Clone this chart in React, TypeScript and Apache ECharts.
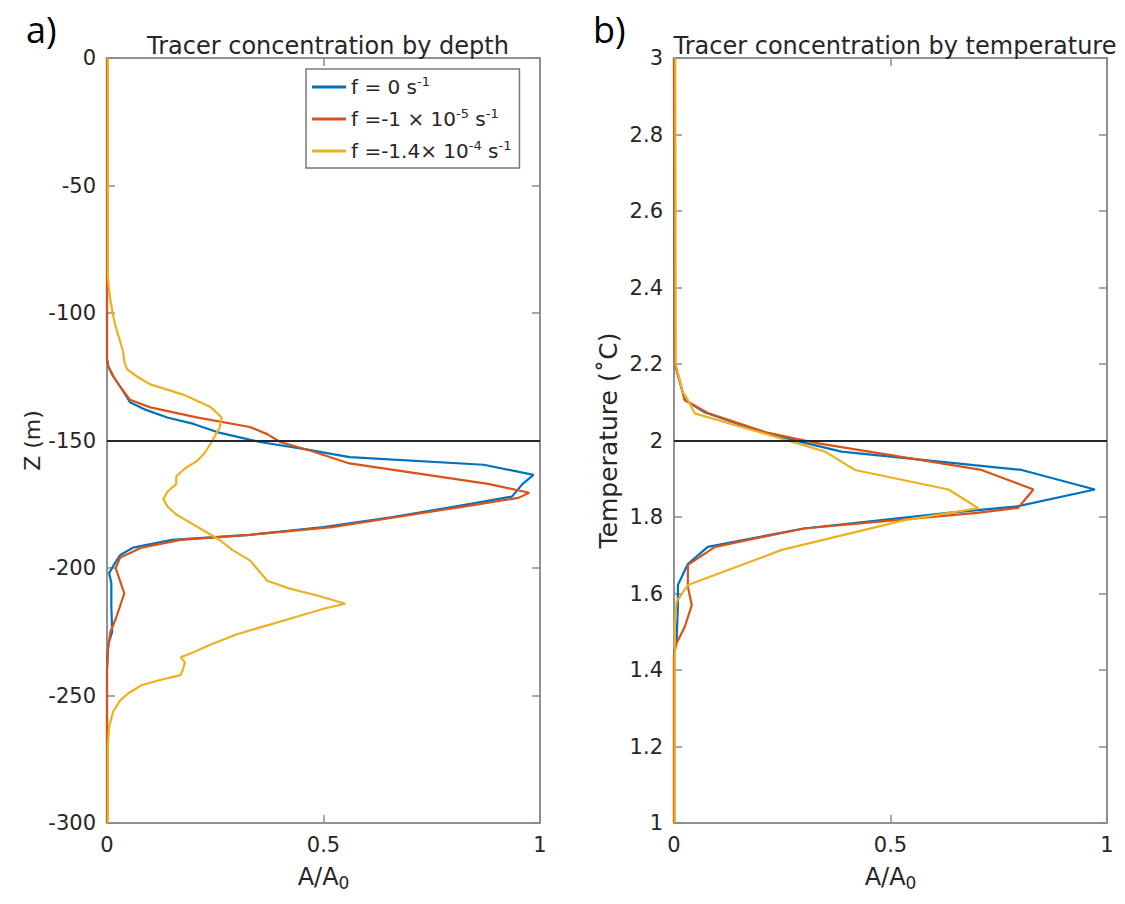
import React, { useEffect, useRef } from "react";
import * as echarts from "echarts";

// ---- Panel a) tracer concentration by depth (Z in m, A/A0) ----
const zBlueDepth = [0, -118, -121, -125, -130, -135, -138, -141, -143.5, -146.7, -150.6, -153.5, -156.5, -159.5, -163.5, -167, -172, -176, -180, -184, -187, -189, -192, -195, -199, -202, -206, -215, -225, -230, -240, -300];
const aBlueDepth = [0, 0, 0.003, 0.015, 0.035, 0.053, 0.09, 0.139, 0.2, 0.254, 0.353, 0.46, 0.56, 0.87, 0.985, 0.96, 0.935, 0.8, 0.66, 0.5, 0.33, 0.15, 0.06, 0.03, 0.015, 0.005, 0.01, 0.01, 0.012, 0.003, 0, 0];

const zRedDepth = [0, -118, -121, -125, -130, -134, -137, -141, -144.7, -147.5, -150.6, -154, -159, -163, -167, -170.5, -172.5, -176, -180, -184, -187, -189, -192, -196, -200, -205, -210, -215, -220, -225, -232, -240, -300];
const aRedDepth = [0, 0, 0.003, 0.015, 0.035, 0.053, 0.1, 0.21, 0.33, 0.37, 0.4, 0.47, 0.56, 0.72, 0.88, 0.975, 0.95, 0.82, 0.67, 0.52, 0.33, 0.17, 0.08, 0.03, 0.02, 0.03, 0.04, 0.03, 0.02, 0.008, 0.002, 0, 0];

const zYellowDepth = [0, -85, -90, -95, -100, -104, -107, -111, -115, -119, -122, -125, -128, -132, -135, -137, -141, -145, -148, -151, -155, -158, -161, -164, -167, -170, -173, -176, -179, -183, -186, -189, -193, -197, -201, -205, -208, -211, -214, -216, -219, -222, -226, -230, -233, -235, -237, -240, -242, -244, -246, -249, -252, -256, -262, -270, -300];
const aYellowDepth = [0.002, 0.002, 0.004, 0.008, 0.013, 0.018, 0.023, 0.03, 0.037, 0.04, 0.046, 0.07, 0.1, 0.176, 0.215, 0.24, 0.265, 0.26, 0.25, 0.24, 0.225, 0.208, 0.18, 0.16, 0.16, 0.14, 0.13, 0.14, 0.16, 0.2, 0.23, 0.26, 0.29, 0.33, 0.35, 0.37, 0.42, 0.49, 0.55, 0.5, 0.44, 0.38, 0.3, 0.24, 0.2, 0.17, 0.18, 0.175, 0.17, 0.12, 0.08, 0.05, 0.03, 0.015, 0.005, 0.002, 0.002];

// ---- Panel b) tracer concentration by temperature (deg C, A/A0) ----
const tBlueTemp = [3, 2.2, 2.127, 2.106, 2.073, 2.023, 1.997, 1.971, 1.923, 1.872, 1.827, 1.811, 1.77, 1.722, 1.677, 1.622, 1.566, 1.478, 1.45, 1];
const aBlueTemp = [0, 0.002, 0.02, 0.025, 0.072, 0.2, 0.29, 0.387, 0.803, 0.972, 0.788, 0.633, 0.3, 0.078, 0.032, 0.009, 0.009, 0.006, 0, 0];

const tRedTemp = [3, 2.2, 2.127, 2.106, 2.072, 2.022, 1.994, 1.923, 1.872, 1.824, 1.811, 1.77, 1.722, 1.675, 1.618, 1.57, 1.513, 1.47, 1.44, 1];
const aRedTemp = [0, 0.002, 0.02, 0.025, 0.078, 0.21, 0.326, 0.71, 0.83, 0.795, 0.7, 0.3, 0.095, 0.032, 0.032, 0.041, 0.025, 0.006, 0, 0];

const tYellowTemp = [3, 2.2, 2.127, 2.106, 2.071, 2.023, 1.971, 1.923, 1.872, 1.823, 1.792, 1.714, 1.622, 1.579, 1.52, 1];
const aYellowTemp = [0.003, 0.004, 0.02, 0.032, 0.048, 0.194, 0.349, 0.418, 0.634, 0.703, 0.533, 0.249, 0.032, 0.006, 0.002, 0.002];

const seriesNames = ["f0", "f1", "f2"];
const legendRich = [
  "{t|f = 0 s}{s|-1}",
  "{t|f =-1 × 10}{s|-5}{t| s}{s|-1}",
  "{t|f =-1.4× 10}{s|-4}{t| s}{s|-1}",
];
const colors = ["#0072BD", "#D95319", "#EDB120"];
const depthRef = -150;
const tempRef = 2;
const titles = ["Tracer concentration by depth", "Tracer concentration by temperature"];
const panelLabels = ["a)", "b)"];

const FONT = "DejaVu Sans";
const AXIS_GRAY = "#8a8a8a";
const TEXT = "#262626";

function pairs(xs: number[], ys: number[]) {
  return xs.map((x, i) => [x, ys[i]]);
}

export default function App() {
  const ref = useRef<HTMLDivElement>(null);
  useEffect(() => {
    if (!ref.current) return;
    const chart = echarts.init(ref.current, undefined, { renderer: "svg" });

    const gridW = 433;
    const gridH = 765;
    const grids = [
      { left: 107, top: 58, width: gridW, height: gridH, show: true, borderColor: AXIS_GRAY, borderWidth: 1.5, backgroundColor: "transparent" },
      { left: 674, top: 58, width: gridW, height: gridH, show: true, borderColor: AXIS_GRAY, borderWidth: 1.5, backgroundColor: "transparent" },
    ];

    const tickCommon = {
      axisLine: { show: true, onZero: false, lineStyle: { color: AXIS_GRAY, width: 1.5 } },
      axisTick: { show: true, inside: true, length: 8, lineStyle: { color: AXIS_GRAY, width: 1.5 } },
      splitLine: { show: false },
    };

    const xMain = (gi: number) => ({
      type: "value",
      gridIndex: gi,
      min: 0,
      max: 1,
      interval: 0.5,
      position: "bottom",
      ...tickCommon,
      axisLabel: { color: TEXT, fontFamily: FONT, fontSize: 21, margin: 11 },
      name: "{a|A/A}{b|0}",
      nameLocation: "middle",
      nameGap: 37,
      nameTextStyle: {
        rich: {
          a: { fontFamily: FONT, fontSize: 24, color: TEXT, lineHeight: 30 },
          b: { fontFamily: FONT, fontSize: 17, color: TEXT, verticalAlign: "bottom", lineHeight: 17, padding: [15, 0, 0, 0] },
        },
      },
    });
    const xTop = (gi: number) => ({
      type: "value",
      gridIndex: gi,
      min: 0,
      max: 1,
      interval: 0.5,
      position: "top",
      ...tickCommon,
      axisLabel: { show: false },
    });

    const lineSeries = (d: number[][], i: number, axis: number, ref: number) => ({
      type: "line",
      name: seriesNames[i],
      xAxisIndex: axis,
      yAxisIndex: axis,
      data: d,
      symbol: "none",
      showSymbol: false,
      silent: true,
      lineStyle: { color: colors[i], width: 2.2 },
      itemStyle: { color: colors[i] },
      z: 2 + i,
      markLine:
        i === 0
          ? {
              silent: true,
              symbol: ["none", "none"],
              label: { show: false },
              lineStyle: { color: "#262626", width: 2.2, type: "solid" },
              data: [{ yAxis: ref }],
            }
          : undefined,
    });

    const option: any = {
      animation: false,
      backgroundColor: "#ffffff",
      title: [
        { text: titles[0], left: 323, top: 29, textAlign: "center", textStyle: { fontFamily: FONT, fontSize: 24, fontWeight: "normal", color: TEXT } },
        { text: titles[1], left: 890, top: 29, textAlign: "center", textStyle: { fontFamily: FONT, fontSize: 24, fontWeight: "normal", color: TEXT } },
        { text: panelLabels[0], left: 21, top: 6, textStyle: { fontFamily: "Open Sans", fontSize: 36, fontWeight: "normal", color: "#000" } },
        { text: panelLabels[1], left: 588, top: 6, textStyle: { fontFamily: "Open Sans", fontSize: 36, fontWeight: "normal", color: "#000" } },
      ],
      grid: grids,
      legend: {
        data: seriesNames,
        orient: "vertical",
        left: 306,
        top: 69,
        padding: [6, 8, 6, 6],
        itemGap: 9,
        itemWidth: 34,
        itemHeight: 3,
        icon: "rect",
        backgroundColor: "#fff",
        borderColor: "#7a7a7a",
        borderWidth: 1.5,
        borderRadius: 0,
        formatter: (name: string) => legendRich[seriesNames.indexOf(name)],
        textStyle: {
          rich: {
            t: { fontFamily: FONT, fontSize: 20, color: TEXT, lineHeight: 24 },
            s: { fontFamily: FONT, fontSize: 13, color: TEXT, verticalAlign: "top", lineHeight: 13, padding: [0, 0, 10, 0] },
          },
        },
      },
      xAxis: [xMain(0), xMain(1), xTop(0), xTop(1)],
      yAxis: [
        {
          type: "value",
          gridIndex: 0,
          min: -300,
          max: 0,
          interval: 50,
          position: "left",
          ...tickCommon,
          axisLabel: { color: TEXT, fontFamily: FONT, fontSize: 21, margin: 11 },
          name: "Z (m)",
          nameLocation: "middle",
          nameGap: 64,
          nameTextStyle: { fontFamily: FONT, fontSize: 22, color: TEXT },
        },
        {
          type: "value",
          gridIndex: 1,
          min: 1,
          max: 3,
          interval: 0.2,
          position: "left",
          ...tickCommon,
          axisLabel: {
            color: TEXT,
            fontFamily: FONT,
            fontSize: 21,
            margin: 11,
            formatter: (v: number) => String(Number(v.toFixed(1))),
          },
          name: "Temperature (˚C)",
          nameLocation: "middle",
          nameGap: 53,
          nameTextStyle: { fontFamily: FONT, fontSize: 25, color: TEXT },
        },
        { type: "value", gridIndex: 0, min: -300, max: 0, interval: 50, position: "right", ...tickCommon, axisLabel: { show: false } },
        { type: "value", gridIndex: 1, min: 1, max: 3, interval: 0.2, position: "right", ...tickCommon, axisLabel: { show: false } },
      ],
      series: [
        ...[
          pairs(aBlueDepth, zBlueDepth),
          pairs(aRedDepth, zRedDepth),
          pairs(aYellowDepth, zYellowDepth),
        ].map((d, i) => lineSeries(d, i, 0, depthRef)),
        ...[
          pairs(aBlueTemp, tBlueTemp),
          pairs(aRedTemp, tRedTemp),
          pairs(aYellowTemp, tYellowTemp),
        ].map((d, i) => lineSeries(d, i, 1, tempRef)),
        { type: "line", xAxisIndex: 2, yAxisIndex: 2, data: [], silent: true },
        { type: "line", xAxisIndex: 3, yAxisIndex: 3, data: [], silent: true },
      ],
    };

    chart.setOption(option);
    return () => chart.dispose();
  }, []);

  return (
    <div
      ref={ref}
      style={{ position: "fixed", left: 0, top: 0, width: 1125, height: 904, background: "#fff" }}
    />
  );
}
